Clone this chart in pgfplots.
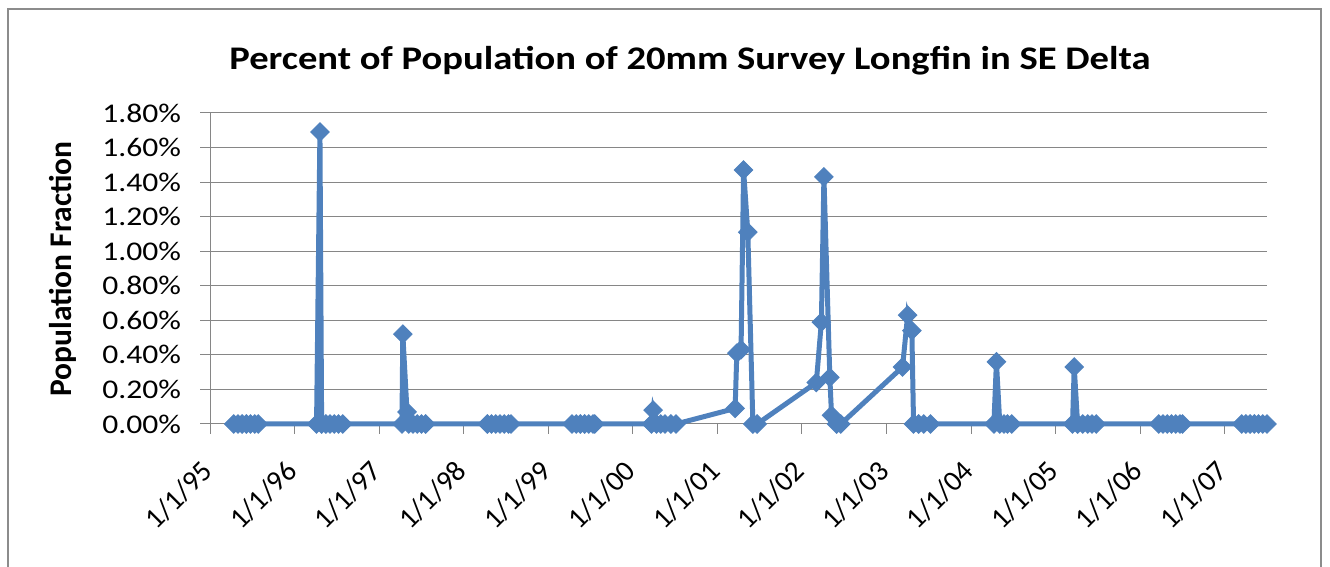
\documentclass[border=0pt]{standalone}
\usepackage{pgfplots}
\pgfplotsset{compat=1.18}
\usepackage{fontspec}
\setmainfont{Carlito}
\definecolor{ser}{HTML}{4F81BD}
\definecolor{gridc}{HTML}{868686}
\definecolor{framec}{HTML}{8C8C8C}
\begin{document}
\begin{tikzpicture}[x=1bp,y=1bp]
\useasboundingbox (0,0) rectangle (1330,567);
\draw[framec, line width=2bp] (8,-5) -- (8,558) -- (1321,558) -- (1321,-5);
\node[font=\fontsize{33bp}{38bp}\selectfont\bfseries, anchor=base, xscale=1.17] at (690,497) {Percent of Population of 20mm Survey Longfin in SE Delta};
\node[font=\fontsize{31.5bp}{36bp}\selectfont\bfseries, rotate=90, anchor=center] at (63,298) {Population Fraction};
\begin{axis}[
  at={(210bp,143bp)}, anchor=south west,
  scale only axis, width=1057bp, height=311bp,
  xmin=0, xmax=12.5, ymin=0, ymax=1.8,
  xtick={0,1,2,3,4,5,6,7,8,9,10,11,12},
  xticklabels={1/1/95,1/1/96,1/1/97,1/1/98,1/1/99,1/1/00,1/1/01,1/1/02,1/1/03,1/1/04,1/1/05,1/1/06,1/1/07},
  ytick={0,0.2,0.4,0.6,0.8,1.0,1.2,1.4,1.6,1.8},
  yticklabel={\pgfmathprintnumber[fixed,fixed zerofill,precision=2]{\tick}\%},
  /pgf/number format/assume math mode=true,
  axis x line*=bottom, axis y line*=left,
  axis line style={gridc, line width=1bp},
  tick style={gridc, line width=1bp},
  major tick length=10bp,
  tick align=outside,
  ymajorgrids, grid style={gridc, line width=1bp},
  xticklabel style={font=\fontsize{29bp}{33bp}\selectfont, yshift=-30bp, rotate=45, anchor=east},
  yticklabel style={font=\fontsize{27bp}{31bp}\selectfont, xshift=-15bp, xscale=1.17, anchor=east},
  clip=false,
]
\addplot[ser, line width=5bp, mark=square*, mark size=6.5bp, mark options={rotate=45, line width=1bp, fill=ser, draw=ser}] coordinates {
(0.28,0) (0.33,0) (0.38,0) (0.43,0) (0.48,0) (0.53,0) (0.57,0)
(1.26,0) (1.30,1.69) (1.32,0) (1.37,0) (1.42,0) (1.47,0) (1.52,0) (1.57,0)
(2.27,0) (2.28,0.52) (2.33,0.07) (2.35,0) (2.40,0) (2.45,0) (2.50,0) (2.55,0)
(3.28,0) (3.33,0) (3.38,0) (3.43,0) (3.48,0) (3.53,0) (3.56,0)
(4.28,0) (4.33,0) (4.38,0) (4.43,0) (4.48,0) (4.53,0) (4.55,0)
(5.22,0) (5.24,0.08) (5.28,0) (5.33,0) (5.38,0) (5.45,0) (5.51,0)
(6.21,0.09) (6.23,0.41) (6.28,0.43) (6.31,1.47) (6.36,1.11) (6.42,0) (6.47,0)
(7.17,0.24) (7.23,0.59) (7.26,1.43) (7.33,0.27) (7.35,0.05) (7.41,0) (7.46,0)
(8.19,0.33) (8.25,0.63) (8.30,0.54) (8.32,0) (8.38,0) (8.44,0) (8.52,0)
(9.27,0) (9.30,0.36) (9.34,0) (9.39,0) (9.43,0) (9.48,0)
(10.20,0) (10.22,0.33) (10.26,0) (10.32,0) (10.38,0) (10.43,0) (10.48,0)
(11.22,0) (11.27,0) (11.32,0) (11.37,0) (11.42,0) (11.47,0) (11.50,0)
(12.20,0) (12.25,0) (12.30,0) (12.35,0) (12.40,0) (12.45,0) (12.50,0)
};
\end{axis}
\end{tikzpicture}
\end{document}
